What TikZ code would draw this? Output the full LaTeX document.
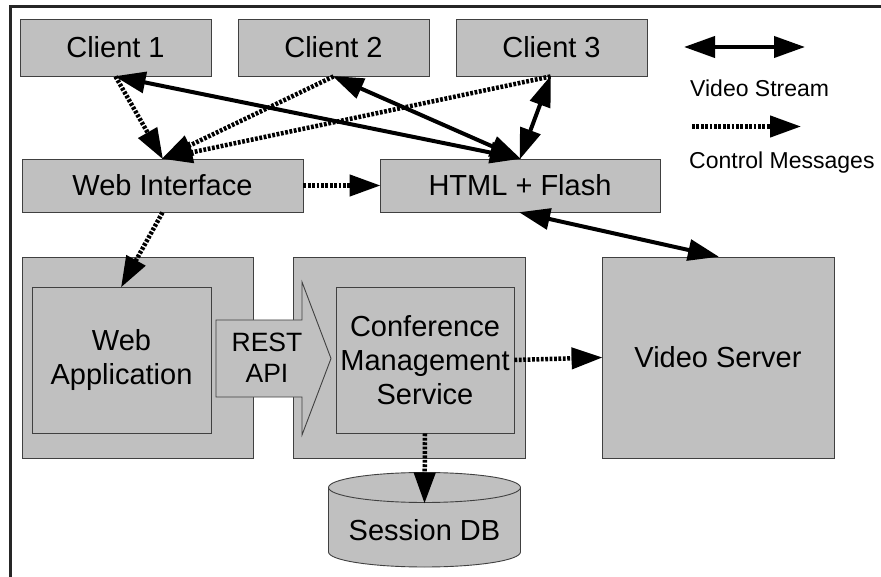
\documentclass[tikz,border=0pt]{standalone}
\usepackage{fontspec}
\setmainfont{Liberation Sans}
\usetikzlibrary{arrows.meta}
\definecolor{boxgray}{HTML}{C0C0C0}
\definecolor{edgegray}{HTML}{404040}
\begin{document}
\begin{tikzpicture}[x=1pt,y=-1pt,
  box/.style={draw=edgegray,line width=0.9pt,fill=boxgray,inner sep=0pt,align=center,
    font=\fontsize{29}{34}\selectfont},
  vid/.style={line width=4pt,{Triangle[length=31pt,width=21pt]}-{Triangle[length=31pt,width=21pt]},shorten <=-1pt,shorten >=-1pt},
  ctl/.style={line width=4.5pt,dash pattern=on 2.8pt off 1.6pt,-{Triangle[length=31pt,width=21pt]},shorten >=-1pt},
  legtext/.style={anchor=west,inner sep=0pt,font=\fontsize{23}{26}\selectfont}]
\useasboundingbox (0,0) rectangle (881,577);
% frame
\draw[line width=3pt,draw=black!85] (10,577) -- (10,7) -- (881,7);
% clients
\node[box,minimum width=191pt,minimum height=57pt] (c1) at (115.5,47.5) {Client 1};
\node[box,minimum width=191pt,minimum height=57pt] (c2) at (333.5,47.5) {Client 2};
\node[box,minimum width=191pt,minimum height=57pt] (c3) at (551.5,47.5) {Client 3};
% web interface, html
\node[box,minimum width=281pt,minimum height=53pt] (wi) at (162.5,185.5) {Web Interface};
\node[box,minimum width=280pt,minimum height=53pt] (html) at (520,185.5) {HTML + Flash};
% containers
\node[box,minimum width=231pt,minimum height=201pt] (o1) at (137.5,357.5) {};
\node[box,minimum width=179pt,minimum height=146pt] (wa) at (121.5,360) {Web\\Application};
\node[box,minimum width=232pt,minimum height=201pt] (o2) at (409,357.5) {};
% REST API arrow
\draw[draw=edgegray,line width=0.9pt,fill=boxgray] (216,320) -- (302,320) -- (302,282) -- (331,358.5) -- (302,435) -- (302,397) -- (216,397) -- cycle;
\node[align=center,inner sep=0pt,font=\fontsize{26.5}{31}\selectfont] (rest) at (267,358) {REST\\API};
\node[box,minimum width=178pt,minimum height=146pt] (cms) at (425,360) {Conference\\Management\\Service};
\node[box,minimum width=232pt,minimum height=201pt] (vs) at (718,357.5) {Video Server};
% session DB cylinder
\draw[draw=edgegray,line width=0.9pt,fill=boxgray] (328.5,487.5) -- (328.5,552) arc[start angle=180,end angle=360,x radius=96pt,y radius=15pt] -- (520.5,487.5) arc[start angle=0,end angle=180,x radius=96pt,y radius=15pt] -- cycle;
\draw[draw=edgegray,line width=0.9pt] (328.5,487.5) arc[start angle=180,end angle=360,x radius=96pt,y radius=15pt];
\coordinate (dbtop) at (424.5,502.5);
\node[inner sep=0pt,font=\fontsize{29}{34}\selectfont] (db) at (424.5,530) {Session DB};
% video stream arrows
\draw[vid] (c1.south) -- (html.north);
\draw[vid] (c2.south) -- (html.north);
\draw[vid] ([xshift=-1pt]c3.south) -- (html.north);
\draw[vid] (html.south) -- (vs.north);
% control arrows
\draw[ctl] (c1.south) -- (wi.north);
\draw[ctl] (c2.south) -- (wi.north);
\draw[ctl] ([xshift=-1pt]c3.south) -- (wi.north);
\draw[ctl] (wi.east) -- (html.west);
\draw[ctl] (wi.south) -- (wa.north);
\draw[ctl] (cms.east) -- (vs.west);
\draw[ctl] (cms.south) -- (dbtop);
% legend
\coordinate (lva) at (685,47);
\coordinate (lvb) at (804,47);
\draw[vid] (lva) -- (lvb);
\node[legtext] (lvt) at (690,88) {Video Stream};
\coordinate (lca) at (692,126.5);
\coordinate (lcb) at (800,126.5);
\draw[ctl] (lca) -- (lcb);
\node[legtext] (lct) at (689,163) {Control Messages};
\end{tikzpicture}
\end{document}
